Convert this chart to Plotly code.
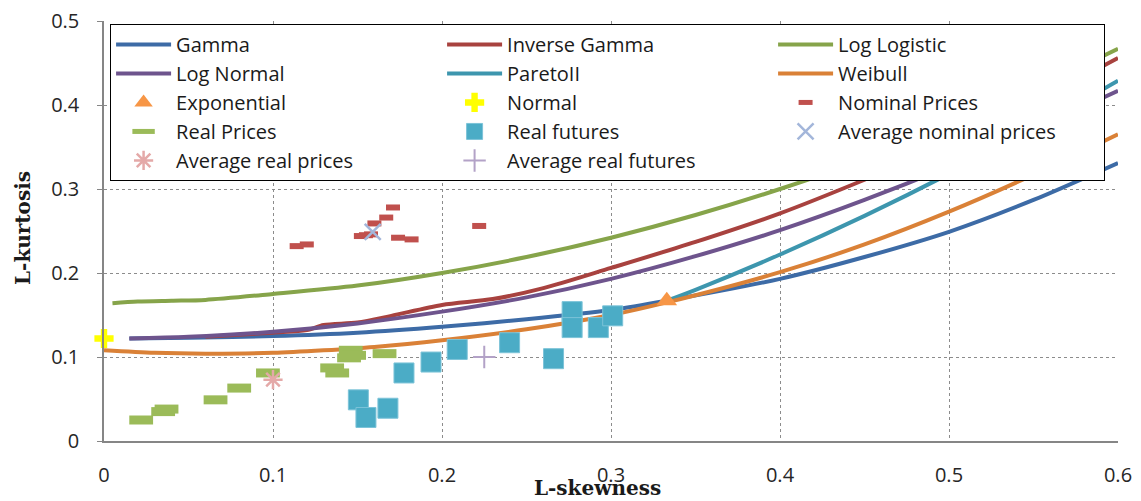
import plotly.graph_objects as go

# theoretical L-moment ratio curves
gamma_x = [0.015, 0.05, 0.1, 0.15, 0.2, 0.25, 0.3, 0.333, 0.4, 0.45, 0.5, 0.55, 0.6]
gamma_y = [0.122, 0.123, 0.125, 0.129, 0.136, 0.145, 0.156, 0.167, 0.193, 0.219, 0.249, 0.287, 0.331]

invgamma_x = [0.06, 0.1, 0.12, 0.13, 0.15, 0.17, 0.2, 0.23, 0.26, 0.3, 0.35, 0.4, 0.45, 0.5, 0.55, 0.6]
invgamma_y = [0.124, 0.129, 0.132, 0.138, 0.141, 0.149, 0.162, 0.169, 0.182, 0.206, 0.237, 0.271, 0.311, 0.354, 0.403, 0.456]

loglogistic_x = [0.005, 0.02, 0.04, 0.06, 0.1, 0.15, 0.2, 0.25, 0.3, 0.35, 0.4, 0.45, 0.5, 0.55, 0.6]
loglogistic_y = [0.164, 0.166, 0.167, 0.168, 0.175, 0.185, 0.200, 0.219, 0.242, 0.269, 0.300, 0.335, 0.375, 0.419, 0.467]

lognormal_x = [0.015, 0.05, 0.1, 0.15, 0.2, 0.25, 0.3, 0.35, 0.4, 0.45, 0.5, 0.55, 0.6]
lognormal_y = [0.122, 0.124, 0.130, 0.140, 0.154, 0.171, 0.193, 0.220, 0.251, 0.287, 0.327, 0.371, 0.417]

pareto2_x = [0.333, 0.35, 0.4, 0.45, 0.5, 0.55, 0.6]
pareto2_y = [0.167, 0.180, 0.222, 0.268, 0.318, 0.372, 0.429]

weibull_x = [0.0, 0.03, 0.06, 0.1, 0.13, 0.16, 0.2, 0.25, 0.3, 0.333, 0.4, 0.45, 0.5, 0.55, 0.6]
weibull_y = [0.108, 0.105, 0.104, 0.105, 0.108, 0.112, 0.120, 0.133, 0.150, 0.165, 0.201, 0.234, 0.273, 0.317, 0.365]

# special points
expo_x, expo_y = [0.333], [0.167]
normal_x, normal_y = [0.0], [0.122]

# sample estimates
nominal_x = [0.114, 0.120, 0.152, 0.155, 0.158, 0.160, 0.167, 0.171, 0.174, 0.182, 0.222]
nominal_y = [0.232, 0.234, 0.244, 0.245, 0.246, 0.259, 0.266, 0.278, 0.242, 0.240, 0.256]

real_x = [0.022, 0.035, 0.037, 0.066, 0.080, 0.097, 0.135, 0.138, 0.145, 0.146, 0.148, 0.166]
real_y = [0.025, 0.035, 0.038, 0.049, 0.063, 0.081, 0.087, 0.081, 0.099, 0.108, 0.102, 0.104]

futures_x = [0.1505, 0.155, 0.168, 0.1775, 0.1935, 0.209, 0.240, 0.266, 0.277, 0.277, 0.2925, 0.301]
futures_y = [0.049, 0.028, 0.039, 0.081, 0.094, 0.109, 0.117, 0.098, 0.154, 0.135, 0.135, 0.149]

avg_nominal_x, avg_nominal_y = [0.159], [0.249]
avg_real_x, avg_real_y = [0.100], [0.073]
avg_futures_x, avg_futures_y = [0.225], [0.100]

fig = go.Figure()

def curve(x, y, name, color):
    fig.add_trace(go.Scatter(x=x, y=y, name=name, mode='lines',
                             line=dict(color=color, width=4, shape='spline', smoothing=0.8)))

def points(x, y, name, symbol, size, color, lw=0, lcolor=None):
    fig.add_trace(go.Scatter(x=x, y=y, name=name, mode='markers', cliponaxis=False,
                             marker=dict(symbol=symbol, size=size, color=color,
                                         line=dict(width=lw, color=lcolor or color))))

curve(gamma_x, gamma_y, 'Gamma', '#3d6ba6')
curve(invgamma_x, invgamma_y, 'Inverse Gamma', '#a8423f')
curve(loglogistic_x, loglogistic_y, 'Log Logistic', '#86a44a')
curve(lognormal_x, lognormal_y, 'Log Normal', '#6e548d')
curve(pareto2_x, pareto2_y, 'ParetoII', '#3d96ae')
curve(weibull_x, weibull_y, 'Weibull', '#da8137')
points(expo_x, expo_y, 'Exponential', 'triangle-up', 18, '#f79646')
points(normal_x, normal_y, 'Normal', 'cross', 16, '#ffff00')
points(nominal_x, nominal_y, 'Nominal Prices', 'line-ew', 10, '#c0504d', 6)
points(real_x, real_y, 'Real Prices', 'line-ew', 17, '#9bbb59', 9)
points(futures_x, futures_y, 'Real futures', 'square', 20, '#4bacc6', 1, '#7cc3d8')
points(avg_nominal_x, avg_nominal_y, 'Average nominal prices', 'x-thin-open', 16, '#a3b6da', 2.5)
points(avg_real_x, avg_real_y, 'Average real prices', 'asterisk-open', 16, '#e4a9a8', 2.5)
points(avg_futures_x, avg_futures_y, 'Average real futures', 'cross-thin-open', 16, '#b3a2c7', 2)

axis_common = dict(showline=True, linecolor='#868686', linewidth=1.5, automargin=False,
                   showgrid=True, gridcolor='#8c8c8c', griddash='dot', gridwidth=1,
                   zeroline=False, tickfont=dict(family='Open Sans', size=20, color='#262626'),
                   ticklabeloverflow='allow', tickmode='linear', tick0=0, dtick=0.1)

fig.update_xaxes(range=[0, 0.6], ticks='', ticklabelstandoff=15, **axis_common)
fig.update_yaxes(range=[0, 0.5], ticks='outside', ticklen=5, tickcolor='#868686',
                 ticklabelstandoff=14, **axis_common)

title_font = dict(family='DejaVu Serif', size=20, color='#1a1a1a')
fig.add_annotation(text='<b>L-skewness</b>', xref='paper', yref='paper', x=0.487, y=-0.112,
                   xanchor='center', yanchor='middle', showarrow=False, font=title_font)
fig.add_annotation(text='<b>L-kurtosis</b>', xref='paper', yref='paper', x=-0.08, y=0.507,
                   xanchor='center', yanchor='middle', textangle=-90, showarrow=False, font=title_font)

# the page adds an 8px body margin, so the figure is a bit smaller than the window
fig.update_layout(
    width=1133, height=493,
    margin=dict(l=96, r=23, t=13, b=60),
    paper_bgcolor='white', plot_bgcolor='white',
    legend=dict(orientation='h', x=0.006, y=0.993, xanchor='left', yanchor='top',
                bgcolor='white', bordercolor='black', borderwidth=1,
                font=dict(family='Open Sans', size=20, color='#1a1a1a'),
                entrywidth=261, entrywidthmode='pixels', itemwidth=55, tracegroupgap=0),
)

fig.write_html("out.html")
